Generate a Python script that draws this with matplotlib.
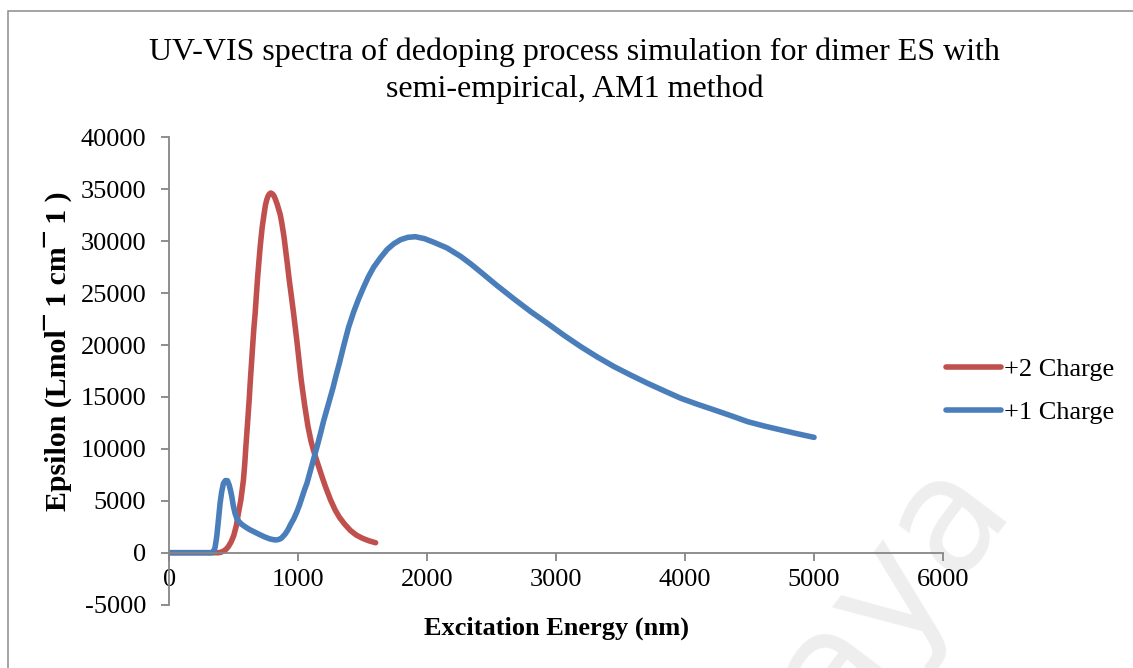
import matplotlib
matplotlib.use('Agg')
import matplotlib.pyplot as plt
from matplotlib.patches import Rectangle

# data
red_x = [0, 300, 380, 400, 420, 440, 460, 480, 500, 520, 536, 555, 565, 575, 585, 594, 602, 610,
         620, 629, 638, 647, 656, 666, 676, 685, 695, 705, 720, 736, 746, 756, 766, 776, 786, 796,
         806, 815, 826, 836, 848, 860, 870, 880, 890, 899, 915, 930, 947, 964, 980, 995, 1010, 1023,
         1050, 1075, 1100, 1120, 1140, 1160, 1185, 1210, 1250, 1287, 1320, 1360, 1404, 1450, 1500,
         1550, 1600]
red_y = [0, 0, 0, 40, 150, 320, 620, 1050, 1650, 2600, 3790, 5080, 6000, 7000, 8500, 10210, 11600,
         13000, 14800, 16640, 18300, 20000, 21600, 23060, 24900, 26500, 28000, 29480, 31300, 32700,
         33500, 34000, 34350, 34550, 34650, 34600, 34480, 34300, 33950, 33600, 33100, 32600, 31950,
         31200, 30400, 29480, 27900, 26300, 24700, 23060, 21400, 19800, 18100, 16640, 14200, 12200,
         10700, 9800, 9000, 8250, 7300, 6400, 5100, 4100, 3400, 2750, 2150, 1700, 1380, 1140, 960]

blue_x = [0, 330, 345, 355, 368, 380, 394, 407, 420, 435, 451, 465, 475, 485, 497, 510, 524, 540,
          560, 588, 620, 660, 700, 740, 780, 810, 830, 850, 870, 899, 920, 940, 965, 990, 1010, 1030,
          1050, 1068, 1090, 1110, 1130, 1150, 1175, 1197, 1220, 1245, 1270, 1290, 1320, 1352, 1390,
          1430, 1470, 1508, 1545, 1585, 1637, 1689, 1740, 1793, 1850, 1909, 1980, 2052, 2155, 2259,
          2340, 2414, 2540, 2673, 2800, 2932, 3060, 3191, 3320, 3450, 3580, 3709, 3840, 3968, 4100,
          4227, 4360, 4486, 4615, 4745, 4870, 5000]
blue_y = [0, 0, 150, 500, 1540, 3000, 4760, 5900, 6680, 6950, 6940, 6500, 6000, 5400, 4500, 3800,
          3300, 3000, 2750, 2500, 2250, 2000, 1750, 1520, 1330, 1250, 1230, 1280, 1400, 1800, 2200,
          2700, 3250, 3950, 4600, 5350, 6100, 6700, 7700, 8600, 9500, 10400, 11600, 12700, 13700,
          14800, 15900, 16900, 18300, 19900, 21700, 23200, 24500, 25600, 26600, 27500, 28400, 29200,
          29750, 30150, 30380, 30440, 30250, 29900, 29350, 28550, 27800, 27050, 25750, 24450, 23250,
          22100, 20950, 19850, 18850, 17920, 17100, 16320, 15580, 14870, 14280, 13750, 13180, 12620,
          12200, 11820, 11460, 11110]

x_ticks = [0, 1000, 2000, 3000, 4000, 5000, 6000]
y_ticks = [-5000, 0, 5000, 10000, 15000, 20000, 25000, 30000, 35000, 40000]

plt.rcParams['font.family'] = ['Liberation Serif', 'DejaVu Serif']
plt.rcParams['axes.unicode_minus'] = False

fig = plt.figure(figsize=(11.33, 6.68), dpi=100)
ax = fig.add_axes([0.1494, 0.0949, 0.6829, 0.6993])
ax.set_facecolor('none')

ax.plot(red_x, red_y, color='#C0504D', lw=4.0, label='+2 Charge',
        solid_capstyle='round', solid_joinstyle='round')
ax.plot(blue_x, blue_y, color='#4A7EBB', lw=4.0, label='+1 Charge',
        solid_capstyle='round', solid_joinstyle='round')

ax.set_xlim(0, 6000)
ax.set_ylim(-5000, 40000)
ax.set_xticks(x_ticks)
ax.set_yticks(y_ticks)
ax.tick_params(labelsize=19, labelcolor='black', color='#868686', length=5.5, width=1.3)
ax.tick_params(axis='x', pad=6)
ax.tick_params(axis='y', pad=11)

for s in ['top', 'right']:
    ax.spines[s].set_visible(False)
ax.spines['bottom'].set_position(('data', 0))
for s in ['left', 'bottom']:
    ax.spines[s].set_color('#868686')
    ax.spines[s].set_linewidth(1.3)

ax.set_xlabel('Excitation Energy (nm)', fontsize=19, fontweight='bold', va='center')
ax.xaxis.set_label_coords(0.5, -0.05)
ax.set_ylabel('Epsilon (Lmol¯ 1 cm¯ 1 )', fontsize=21.5, fontweight='bold', va='center')
ax.yaxis.set_label_coords(-0.144, 0.543)

fig.text(0.5075, 0.922, 'UV-VIS spectra of dedoping process simulation for dimer ES with',
         ha='center', va='center', fontsize=23)
fig.text(0.5075, 0.866, 'semi-empirical, AM1 method', ha='center', va='center', fontsize=23)

ax.legend(loc='center left', bbox_to_anchor=(0.814, 0.415), bbox_transform=fig.transFigure,
          frameon=False, fontsize=19, handlelength=2.1, handletextpad=0.1, labelspacing=0.75)

# border of the chart area
fig.patches.append(Rectangle((8 / 1133, -0.2), 1.2, 1.2 - 11 / 668, transform=fig.transFigure,
                             fill=False, edgecolor='#8c8c8c', lw=1.1))

# faint watermark, behind the axes
fig.text(0.785, 0.115, 'aya', rotation=53, fontsize=115, color='#eeeeee',
         family='DejaVu Sans', ha='center', va='center', zorder=-1)

fig.savefig('out.png', dpi=100)
